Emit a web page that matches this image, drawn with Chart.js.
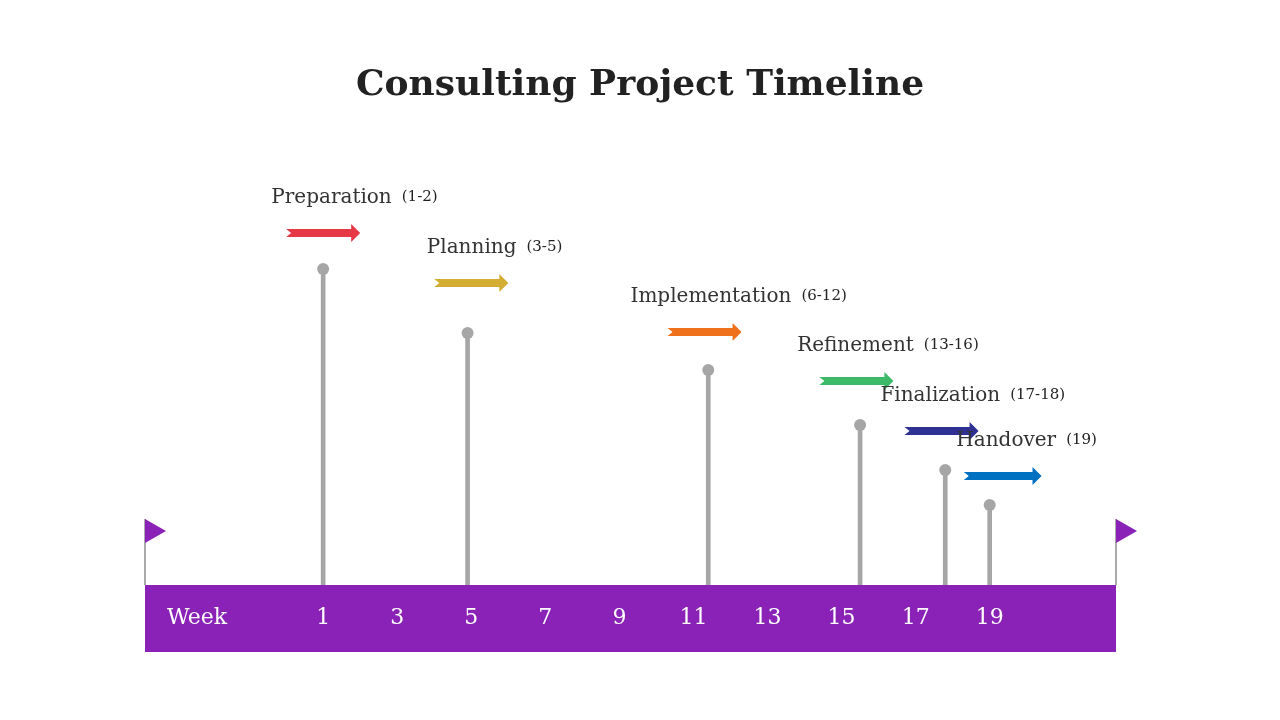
<!DOCTYPE html>
<html>
<head>
<meta charset="utf-8">
<script src="https://cdn.jsdelivr.net/npm/chart.js@4.4.1/dist/chart.umd.min.js"></script>
<style>
  html, body { margin: 0; padding: 0; background: #fff; }
  #wrap { width: 1280px; height: 720px; }
</style>
</head>
<body>
<div id="wrap"><canvas id="chart" width="1280" height="720"></canvas></div>
<script>
// phases
const phases = ['Preparation', 'Planning', 'Implementation', 'Refinement', 'Finalization', 'Handover'];
const ranges = ['(1-2)', '(3-5)', '(6-12)', '(13-16)', '(17-18)', '(19)'];
const colors = ['#e63946', '#d4ae32', '#f0711c', '#3dba68', '#2e3192', '#0070c0'];
// stems (week, height)
const stemWeeks = [1, 4.9, 11.4, 15.5, 17.8, 19];
const stemHeights = [316, 252, 215, 160, 115, 80];
// arrows (week start/end, height) and label anchors
const arrowStart = [0, 4, 10.3, 14.4, 16.7, 18.3];
const arrowEnd = [2, 6, 12.3, 16.4, 18.7, 20.4];
const arrowHeights = [352, 302, 253, 204, 154, 109];
const labelWeeks = [-0.4, 3.8, 9.3, 13.8, 16.05, 18.1];
const weekTicks = [1, 3, 5, 7, 9, 11, 13, 15, 17, 19];

const purple = '#8b22b8';
const serif = '"DejaVu Serif", serif';

const decor = {
  id: 'decor',
  beforeDraw(chart) {
    const { ctx, chartArea: a, scales: { x } } = chart;
    ctx.save();
    ctx.fillStyle = '#fff';
    ctx.fillRect(0, 0, chart.width, chart.height);
    // band
    ctx.fillStyle = purple;
    ctx.fillRect(a.left, a.bottom, a.right - a.left, x.height);
    ctx.fillStyle = '#fff';
    ctx.font = '22px ' + serif;
    ctx.textAlign = 'center';
    ctx.textBaseline = 'middle';
    ctx.fillText('Week', a.left + 52, a.bottom + x.height / 2);
    // title
    ctx.fillStyle = '#222';
    ctx.font = 'bold 36px ' + serif;
    ctx.fillText('Consulting Project Timeline', chart.width / 2, 86);
    // flags
    [a.left, a.right].forEach(px => {
      ctx.strokeStyle = '#555';
      ctx.lineWidth = 1;
      ctx.beginPath();
      ctx.moveTo(px, a.bottom);
      ctx.lineTo(px, a.bottom - 66);
      ctx.stroke();
      ctx.fillStyle = purple;
      ctx.beginPath();
      ctx.moveTo(px, a.bottom - 66);
      ctx.lineTo(px + 21, a.bottom - 54);
      ctx.lineTo(px, a.bottom - 42);
      ctx.closePath();
      ctx.fill();
    });
    ctx.restore();
  },
  afterDatasetsDraw(chart) {
    const { ctx, scales: { x, y } } = chart;
    ctx.save();
    phases.forEach((name, i) => {
      const x0 = x.getPixelForValue(arrowStart[i]);
      const x1 = x.getPixelForValue(arrowEnd[i]);
      const py = y.getPixelForValue(arrowHeights[i]);
      ctx.fillStyle = colors[i];
      ctx.beginPath();
      ctx.moveTo(x0, py - 4);
      ctx.lineTo(x1 - 9, py - 4);
      ctx.lineTo(x1 - 9, py - 9);
      ctx.lineTo(x1, py);
      ctx.lineTo(x1 - 9, py + 9);
      ctx.lineTo(x1 - 9, py + 4);
      ctx.lineTo(x0, py + 4);
      ctx.lineTo(x0 + 5, py);
      ctx.closePath();
      ctx.fill();
      const lx = x.getPixelForValue(labelWeeks[i]);
      ctx.fillStyle = '#333';
      ctx.textBaseline = 'middle';
      ctx.textAlign = 'left';
      ctx.font = '20px ' + serif;
      ctx.fillText(name, lx, py - 35);
      const w = ctx.measureText(name).width;
      ctx.font = '15px ' + serif;
      ctx.fillStyle = '#222';
      ctx.fillText(ranges[i], lx + w + 10, py - 36);
    });
    ctx.restore();
  }
};

new Chart(document.getElementById('chart'), {
  type: 'bar',
  data: {
    datasets: [
      {
        type: 'bar',
        data: stemWeeks.map((w, i) => ({ x: w, y: stemHeights[i] })),
        backgroundColor: '#a6a6a6',
        barThickness: 4
      },
      {
        type: 'scatter',
        data: stemWeeks.map((w, i) => ({ x: w, y: stemHeights[i] })),
        backgroundColor: '#a6a6a6',
        borderWidth: 0,
        pointRadius: 6
      }
    ]
  },
  options: {
    responsive: false,
    animation: false,
    layout: { padding: { left: 145, right: 164, top: 140, bottom: 68 } },
    plugins: { legend: { display: false }, tooltip: { enabled: false } },
    scales: {
      x: {
        type: 'linear',
        min: -2.5,
        max: 21.1,
        grid: { display: false, drawTicks: false },
        border: { display: false },
        afterBuildTicks: s => { s.ticks = weekTicks.map(v => ({ value: v })); },
        afterFit: s => { s.height = 67; },
        ticks: { color: '#fff', font: { family: serif, size: 22 }, padding: 20, maxRotation: 0 }
      },
      y: {
        display: false,
        min: 0,
        max: 445
      }
    }
  },
  plugins: [decor]
});
</script>
</body>
</html>
